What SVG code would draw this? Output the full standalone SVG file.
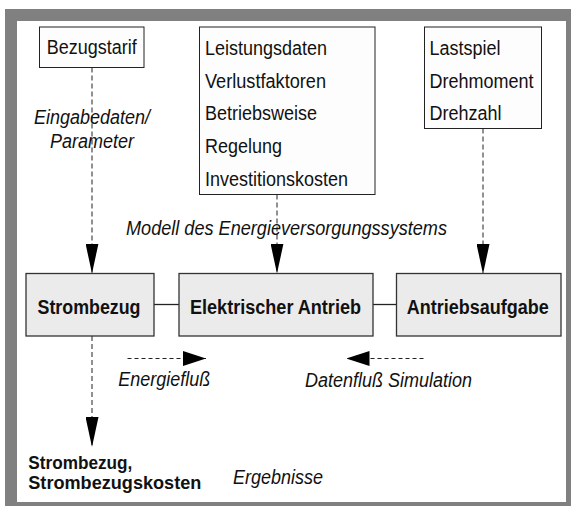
<svg xmlns="http://www.w3.org/2000/svg" width="571" height="506" viewBox="0 0 571 506">
<style>
text{font-family:"Liberation Sans",Arial,sans-serif;font-size:20px;fill:#111}
.b{font-weight:bold}
.i{font-style:italic}
.res{font-size:18px}
.inbox{fill:#fdfdfd;stroke:#222;stroke-width:1}
.node{fill:#ebebeb;stroke:#333;stroke-width:1.3}
.dash{fill:none;stroke:#222;stroke-width:1;stroke-dasharray:5 3}
.dash2{fill:none;stroke:#222;stroke-width:1;stroke-dasharray:4 3}
.solid{fill:none;stroke:#222;stroke-width:1.3}
</style>
<defs>
<marker id="av" markerUnits="userSpaceOnUse" viewBox="0 0 30 13" markerWidth="30" markerHeight="13" refX="30" refY="6.5" orient="auto"><path d="M0,0 L30,6.5 L0,13 Z" fill="#000"/></marker>
<marker id="ah" markerUnits="userSpaceOnUse" viewBox="0 0 23 15" markerWidth="23" markerHeight="15" refX="23" refY="7.5" orient="auto"><path d="M0,0 L23,7.5 L0,15 Z" fill="#000"/></marker>
</defs>
<rect x="5" y="9" width="566" height="497" fill="#808080"/>
<rect x="17" y="21" width="549" height="481" fill="#fff"/>

<g id="connectors">
<line class="dash" x1="92" y1="67.5" x2="92" y2="273.5" marker-end="url(#av)"/>
<line class="dash" x1="277" y1="194.5" x2="277" y2="273.5" marker-end="url(#av)"/>
<line class="dash" x1="483" y1="128.5" x2="483" y2="274" marker-end="url(#av)"/>
<line class="dash" x1="92" y1="336" x2="92" y2="447" marker-end="url(#av)"/>
<line class="solid" x1="154" y1="304.5" x2="179" y2="304.5"/>
<line class="solid" x1="373" y1="304.5" x2="396.5" y2="304.5"/>
<line class="dash2" x1="127.5" y1="358.5" x2="206" y2="358.5" marker-end="url(#ah)"/>
<line class="dash2" x1="423.5" y1="358.5" x2="346.5" y2="358.5" marker-end="url(#ah)"/>
</g>

<g id="bezugstarif">
<rect class="inbox" x="39.5" y="27" width="104.5" height="40.5"/>
<text x="46.7" y="54" textLength="90" lengthAdjust="spacingAndGlyphs">Bezugstarif</text>
</g>
<g id="leistungsdaten">
<rect class="inbox" x="199.5" y="27" width="175.5" height="167.5"/>
<text x="205" y="55" textLength="122" lengthAdjust="spacingAndGlyphs">Leistungsdaten</text>
<text x="205" y="87.7" textLength="121" lengthAdjust="spacingAndGlyphs">Verlustfaktoren</text>
<text x="205" y="120.4" textLength="112" lengthAdjust="spacingAndGlyphs">Betriebsweise</text>
<text x="205" y="153" textLength="77" lengthAdjust="spacingAndGlyphs">Regelung</text>
<text x="205" y="185.7" textLength="143" lengthAdjust="spacingAndGlyphs">Investitionskosten</text>
</g>
<g id="lastspiel">
<rect class="inbox" x="424.5" y="27" width="117" height="101.5"/>
<text x="429.5" y="55" textLength="71" lengthAdjust="spacingAndGlyphs">Lastspiel</text>
<text x="429.5" y="87.7" textLength="104" lengthAdjust="spacingAndGlyphs">Drehmoment</text>
<text x="429.5" y="120.4" textLength="72" lengthAdjust="spacingAndGlyphs">Drehzahl</text>
</g>

<g id="strombezug">
<rect class="node" x="26" y="273.5" width="128" height="62.5"/>
<text class="b" x="37.5" y="313.5" textLength="103" lengthAdjust="spacingAndGlyphs">Strombezug</text>
</g>
<g id="elektrischer-antrieb">
<rect class="node" x="179" y="273.5" width="194" height="62.5"/>
<text class="b" x="190" y="313.5" textLength="171" lengthAdjust="spacingAndGlyphs">Elektrischer Antrieb</text>
</g>
<g id="antriebsaufgabe">
<rect class="node" x="396.5" y="273.5" width="164.5" height="62.5"/>
<text class="b" x="406.7" y="313.5" textLength="142" lengthAdjust="spacingAndGlyphs">Antriebsaufgabe</text>
</g>

<g id="labels">
<text class="i" x="92" y="123.5" text-anchor="middle" textLength="116" lengthAdjust="spacingAndGlyphs">Eingabedaten/</text>
<text class="i" x="92" y="148" text-anchor="middle" textLength="84" lengthAdjust="spacingAndGlyphs">Parameter</text>
<text class="i" x="126" y="235" textLength="321" lengthAdjust="spacingAndGlyphs">Modell des Energieversorgungssystems</text>
<text class="i" x="118.3" y="386" textLength="92" lengthAdjust="spacingAndGlyphs">Energiefluß</text>
<text class="i" x="305" y="386.5" textLength="167" lengthAdjust="spacingAndGlyphs">Datenfluß Simulation</text>
<text class="i" x="233" y="484" textLength="90" lengthAdjust="spacingAndGlyphs">Ergebnisse</text>
<text class="b res" x="28.3" y="468.5" textLength="104" lengthAdjust="spacingAndGlyphs">Strombezug,</text>
<text class="b res" x="28.3" y="489" textLength="173" lengthAdjust="spacingAndGlyphs">Strombezugskosten</text>
</g>
</svg>
